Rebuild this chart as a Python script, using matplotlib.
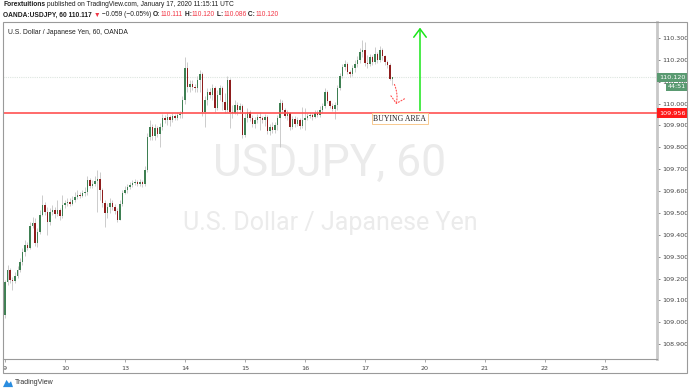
import matplotlib
matplotlib.use("Agg")
import matplotlib.pyplot as plt
import matplotlib.patches as patches
import numpy as np

# hourly OANDA:USDJPY candles, Jan 9 00:00 UTC -> Jan 17 11:00 UTC
first_open = 109.033
closes = [
    109.184, 109.239, 109.193, 109.188, 109.211, 109.239, 109.275, 109.321, 109.353, 109.339,
    109.440, 109.454, 109.362, 109.413, 109.490, 109.536, 109.504, 109.458, 109.504, 109.513,
    109.495, 109.513, 109.486, 109.536, 109.545, 109.550, 109.541, 109.559, 109.573, 109.582,
    109.577, 109.591, 109.596, 109.650, 109.623, 109.632, 109.646, 109.655, 109.605, 109.545,
    109.500, 109.527, 109.545, 109.527, 109.509, 109.467, 109.541, 109.591, 109.605, 109.619,
    109.628, 109.637, 109.641, 109.632, 109.641, 109.632, 109.696, 109.847, 109.893, 109.852,
    109.888, 109.861, 109.893, 109.934, 109.925, 109.939, 109.925, 109.943, 109.934, 109.948,
    109.952, 110.016, 110.163, 110.076, 110.090, 110.076, 110.071, 110.108, 110.135, 109.962,
    110.016, 110.053, 110.039, 110.071, 109.980, 110.039, 110.071, 110.007, 109.971, 110.108,
    109.962, 109.957, 109.994, 109.971, 109.989, 109.856, 109.934, 109.962, 109.934, 109.907,
    109.925, 109.939, 109.934, 109.925, 109.939, 109.875, 109.893, 109.879, 109.902, 109.934,
    110.003, 109.971, 109.943, 109.957, 109.893, 109.930, 109.907, 109.925, 109.897, 109.925,
    109.934, 109.943, 109.948, 109.939, 109.957, 109.948, 109.971, 109.989, 110.053, 110.012,
    109.989, 109.975, 109.994, 110.071, 110.126, 110.167, 110.181, 110.145, 110.135, 110.163,
    110.181, 110.200, 110.236, 110.245, 110.186, 110.181, 110.213, 110.190, 110.227, 110.200,
    110.245, 110.218, 110.190, 110.177, 110.111, 110.120,
]
highs = [
    109.193, 109.262, 109.248, 109.207, 109.230, 109.257, 109.294, 109.339, 109.376, 109.367,
    109.458, 109.481, 109.477, 109.431, 109.513, 109.582, 109.550, 109.527, 109.522, 109.536,
    109.527, 109.559, 109.522, 109.582, 109.559, 109.568, 109.568, 109.577, 109.596, 109.605,
    109.596, 109.605, 109.619, 109.669, 109.660, 109.650, 109.669, 109.696, 109.687, 109.614,
    109.559, 109.545, 109.568, 109.559, 109.541, 109.522, 109.559, 109.605, 109.623, 109.632,
    109.641, 109.650, 109.655, 109.650, 109.655, 109.650, 109.715, 109.866, 109.925, 109.907,
    109.907, 109.897, 109.911, 109.952, 109.948, 109.957, 109.948, 109.957, 109.952, 109.962,
    109.966, 110.035, 110.213, 110.190, 110.108, 110.108, 110.090, 110.126, 110.154, 110.145,
    110.035, 110.071, 110.071, 110.090, 110.081, 110.062, 110.085, 110.081, 110.049, 110.126,
    110.117, 109.994, 110.016, 110.007, 110.003, 109.998, 109.957, 109.980, 109.971, 109.948,
    109.939, 109.952, 109.962, 109.943, 109.952, 109.948, 109.907, 109.916, 109.916, 109.948,
    110.021, 110.016, 109.980, 109.971, 109.962, 109.943, 109.943, 109.939, 109.934, 109.984,
    109.980, 109.957, 109.962, 109.957, 109.971, 109.971, 109.989, 110.003, 110.071, 110.062,
    110.016, 110.003, 110.007, 110.085, 110.140, 110.181, 110.200, 110.190, 110.154, 110.177,
    110.200, 110.218, 110.254, 110.291, 110.282, 110.222, 110.227, 110.222, 110.259, 110.236,
    110.264, 110.254, 110.222, 110.200, 110.186, 110.120,
]
lows = [
    109.019, 109.170, 109.179, 109.147, 109.179, 109.202, 109.230, 109.262, 109.303, 109.330,
    109.335, 109.431, 109.349, 109.344, 109.403, 109.486, 109.490, 109.399, 109.445, 109.490,
    109.477, 109.486, 109.467, 109.477, 109.522, 109.532, 109.532, 109.536, 109.550, 109.564,
    109.568, 109.573, 109.577, 109.582, 109.614, 109.614, 109.623, 109.504, 109.559, 109.527,
    109.435, 109.477, 109.500, 109.513, 109.495, 109.458, 109.467, 109.532, 109.586, 109.591,
    109.609, 109.619, 109.628, 109.623, 109.623, 109.619, 109.623, 109.687, 109.833, 109.833,
    109.833, 109.847, 109.801, 109.879, 109.911, 109.902, 109.897, 109.916, 109.925, 109.925,
    109.934, 109.934, 109.998, 110.053, 110.053, 110.062, 110.053, 110.053, 110.053, 109.943,
    109.893, 109.994, 110.026, 110.016, 109.962, 109.971, 110.016, 109.971, 109.957, 109.962,
    109.888, 109.934, 109.952, 109.948, 109.957, 109.843, 109.847, 109.916, 109.920, 109.893,
    109.888, 109.911, 109.879, 109.911, 109.897, 109.861, 109.856, 109.866, 109.866, 109.879,
    109.801, 109.957, 109.934, 109.925, 109.879, 109.884, 109.893, 109.897, 109.884, 109.888,
    109.879, 109.925, 109.934, 109.925, 109.934, 109.939, 109.939, 109.957, 109.980, 110.003,
    109.980, 109.966, 109.930, 109.971, 110.062, 110.117, 110.154, 110.135, 110.122, 110.126,
    110.145, 110.167, 110.186, 110.213, 110.172, 110.163, 110.172, 110.177, 110.181, 110.186,
    110.190, 110.200, 110.177, 110.163, 110.108, 110.086,
]

day_ticks = [0, 24, 48, 72, 96, 120, 144, 168, 192, 216, 240]
day_labels = ["9", "10", "13", "14", "15", "16", "17", "20", "21", "22", "23"]
price_ticks = [108.9, 109.0, 109.1, 109.2, 109.3, 109.4, 109.5, 109.6, 109.7,
               109.8, 109.9, 110.0, 110.1, 110.2, 110.3]

last_price = 110.120
buy_level = 109.956

W, H = 690, 392
fig = plt.figure(figsize=(W / 100, H / 100), dpi=100)
fig.patch.set_facecolor("white")

ax = fig.add_axes([3 / W, 33 / H, 654 / W, 337 / H])

c = np.array(closes)
o = np.concatenate([[first_open], c[:-1]])
hi = np.maximum(np.array(highs), np.maximum(o, c))
lo = np.minimum(np.array(lows), np.minimum(o, c))
idx = np.arange(len(c))
up = c >= o

# watermark
ax.text(0.5, 0.578, "USDJPY, 60", transform=ax.transAxes, ha="center", va="center",
        fontsize=32, color="#ebebeb", family="Roboto", zorder=0)
ax.text(0.5, 0.405, "U.S. Dollar / Japanese Yen", transform=ax.transAxes, ha="center",
        va="center", fontsize=18, color="#ebebeb", family="Roboto", zorder=0)

# candles
ax.vlines(idx, lo, hi, color="#c4c4c4", lw=0.6, zorder=2)
body = np.maximum(np.abs(c - o), 0.003)
ax.bar(idx, body, bottom=np.minimum(o, c), width=0.65,
       color=np.where(up, "#3e7f52", "#8e1d1d"), zorder=3)

# levels
ax.axhline(buy_level, color="#ff5252", lw=1.2, zorder=4)
ax.axhline(last_price, color="#dde5df", lw=0.8, ls=(0, (1, 1)), zorder=1)

# green target arrow
ax.annotate("", xy=(166, 110.360), xytext=(166, buy_level),
            arrowprops=dict(arrowstyle="->,head_length=0.6,head_width=0.45",
                            color="#19e619", lw=1.1), zorder=5)
# red dotted arrow
ax.annotate("", xy=(156.2, 109.985), xytext=(155.3, 110.099),
            arrowprops=dict(arrowstyle="->,head_length=0.45,head_width=0.5",
                            color="#ff5050", lw=0.8, ls=":",
                            connectionstyle="arc3,rad=-0.2"), zorder=5)
ax.text(158, 109.931, "BUYING AREA", ha="center", va="center", fontsize=5.6,
        family="Liberation Serif", color="#222222", zorder=6,
        bbox=dict(boxstyle="square,pad=0.22", fc="white", ec="#f7c98f", lw=0.7))

ax.set_xlim(-0.8, 260.8)
ax.set_ylim(108.832, 110.373)

ax.yaxis.tick_right()
ax.set_yticks(price_ticks)
ax.set_yticklabels([f"{p:.3f}" for p in price_ticks])
ax.tick_params(axis="y", length=2, width=0.5, colors="#555555", labelsize=4.6,
               pad=2, labelcolor="#444444")
ax.set_xticks(day_ticks)
ax.set_xticklabels(day_labels)
ax.tick_params(axis="x", length=2, width=0.5, colors="#888888", labelsize=4.6,
               pad=3, labelcolor="#444444")

for s in ["top", "left"]:
    ax.spines[s].set_visible(False)
ax.spines["right"].set_color("#c8c8c8")
ax.spines["right"].set_linewidth(2)
ax.spines["bottom"].set_color("#9a9a9a")
ax.spines["bottom"].set_linewidth(0.8)

# outer pane border
fig.patches.append(patches.Rectangle((3 / W, 19 / H), 684 / W, 351 / H, transform=fig.transFigure,
                                     fill=False, ec="#9a9a9a", lw=0.8))

# price labels on scale
ytr = ax.get_yaxis_transform()
ax.text(1.0 + 2 / 654, last_price, "110.120", transform=ytr, ha="left", va="center",
        fontsize=4.6, color="white", zorder=7, clip_on=False,
        bbox=dict(boxstyle="square,pad=0.35", fc="#5a9a71", ec="none"))
ax.text(1.0 + 29 / 654, 110.076, "44:51", transform=ytr, ha="right", va="center",
        fontsize=4.6, color="white", zorder=7, clip_on=False,
        bbox=dict(boxstyle="square,pad=0.3", fc="#5a9a71", ec="none"))
ax.text(1.0 + 2 / 654, buy_level, "109.956", transform=ytr, ha="left", va="center",
        fontsize=4.6, color="white", zorder=7, clip_on=False,
        bbox=dict(boxstyle="square,pad=0.35", fc="#ff1a1a", ec="none"))

ax.text(5 / 654, 1 - 11 / 337, "U.S. Dollar / Japanese Yen, 60, OANDA", transform=ax.transAxes,
        fontsize=4.9, color="#222222", ha="left", va="center", family="Liberation Sans")


def chain(x, y, parts, size):
    r = fig.canvas.get_renderer()
    for s, col, wt in parts:
        t = fig.text(x, y, s, fontsize=size, color=col, fontweight=wt, ha="left", va="center",
                     family=["Liberation Sans", "DejaVu Sans"])
        x += t.get_window_extent(r).width / fig.bbox.width


dark = "#1e1e1e"
red = "#f23645"
chain(3 / W, 1 - 5 / H, [("Forextuitions", dark, "bold"),
                         (" published on TradingView.com, January 17, 2020 11:15:11 UTC", dark, "normal")], 4.8)
chain(3 / W, 1 - 15 / H, [("OANDA:USDJPY, 60 110.117 ", dark, "bold"), ("▼", red, "normal"),
                          (" \u22120.059 (\u22120.05%) ", dark, "normal"),
                          ("O:", dark, "bold"), ("110.111", red, "normal"),
                          (" H:", dark, "bold"), ("110.120", red, "normal"),
                          (" L:", dark, "bold"), ("110.086", red, "normal"),
                          (" C:", dark, "bold"), ("110.120", red, "normal")], 4.8)

# TradingView footer
logo = fig.add_axes([3 / W, 4 / H, 10 / W, 9 / H])
logo.add_patch(patches.Polygon([(0, 0.1), (0.35, 0.9), (0.6, 0.5), (0.8, 0.75), (1, 0.1)],
                               closed=True, fc="#2a8de0", ec="none"))
logo.set_xlim(0, 1)
logo.set_ylim(0, 1)
logo.axis("off")
fig.text(15 / W, 1 - 382 / H, "TradingView", fontsize=5, color="#333333", va="center", ha="left",
         family="Liberation Sans")

fig.savefig("out.png", dpi=100, facecolor="white")
